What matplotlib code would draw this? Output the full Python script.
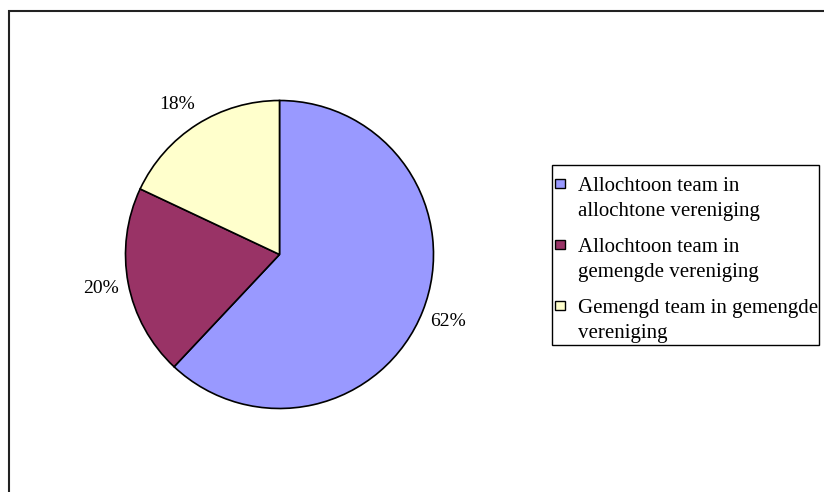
import matplotlib
matplotlib.use('Agg')
import matplotlib.pyplot as plt
from matplotlib.patches import Rectangle

plt.rcParams['font.family'] = ['Liberation Serif', 'DejaVu Serif']

labels = ['Allochtoon team in\nallochtone vereniging',
          'Allochtoon team in\ngemengde vereniging',
          'Gemengd team in gemengde\nvereniging']
shares = [62, 20, 18]
colors = ['#9999FF', '#993366', '#FFFFCC']

W, H = 824, 492
fig = plt.figure(figsize=(W / 100, H / 100), dpi=100)


def px(x, y):
    # pixel position from top-left -> figure fraction
    return x / W, 1 - y / H


# outer chart frame (runs off the right and bottom edge)
fig.patches.append(Rectangle((9 / W, -0.05), 1.0, 1 - 11 / H + 0.05,
                             transform=fig.transFigure, fill=False,
                             edgecolor='#222222', linewidth=1.5))

# pie area: center (279, 254) px, radius 154 px
cx, cy, r = 279.5, 254.5, 154
ax = fig.add_axes([(cx - r) / W, (H - cy - r) / H, 2 * r / W, 2 * r / H])
wedges, _, autotexts = ax.pie(shares, colors=colors, startangle=90,
                              counterclock=False, radius=1,
                              autopct='%1.0f%%', pctdistance=1.18,
                              wedgeprops=dict(edgecolor='black', linewidth=1.2))
for t in autotexts:
    t.set_fontsize(14)
autotexts[2].set_position((autotexts[2].get_position()[0] - 0.03,
                           autotexts[2].get_position()[1] - 0.02))
ax.set_xlim(-1, 1)
ax.set_ylim(-1, 1)
ax.set_aspect('equal')
ax.axis('off')

# legend box, drawn by hand so the swatch sits on the first text line
x0, y0 = px(552, 345)
x1, y1 = px(819, 165)
fig.patches.append(Rectangle((x0, y0), x1 - x0, y1 - y0,
                             transform=fig.transFigure, fill=False,
                             edgecolor='black', linewidth=1.0))
for i, (lab, col) in enumerate(zip(labels, colors)):
    base = 191 + 61 * i
    sx, sy = px(555, base - 3)
    fig.patches.append(Rectangle((sx, sy), 9.5 / W, 9.5 / H,
                                 transform=fig.transFigure, facecolor=col,
                                 edgecolor='black', linewidth=1.0))
    for j, line in enumerate(lab.split('\n')):
        tx, ty = px(578, base + 25 * j)
        fig.text(tx, ty, line, fontsize=15, va='baseline', ha='left')

fig.savefig('out.png', dpi=100)
